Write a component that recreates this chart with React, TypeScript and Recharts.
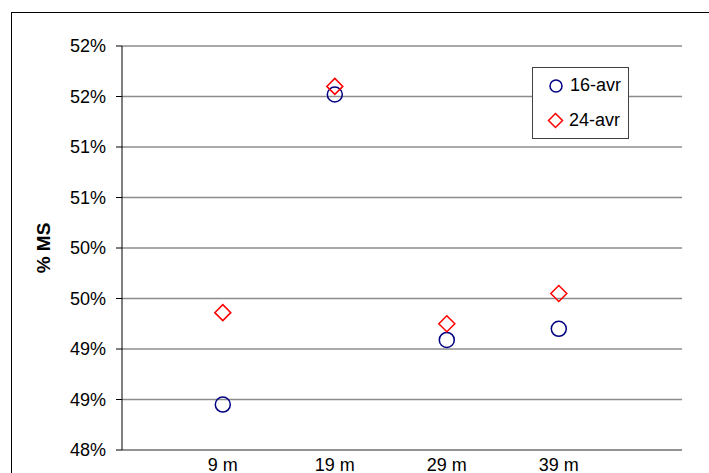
import { ScatterChart, Scatter, XAxis, YAxis, CartesianGrid, Legend } from 'recharts';

// distances (m) and % MS
const distances = [9, 19, 29, 39];
const avr16 = [48.45, 51.52, 49.09, 49.2];
const avr24 = [49.36, 51.6, 49.25, 49.55];
const yTicks = [48, 48.5, 49, 49.5, 50, 50.5, 51, 51.5, 52];
const xTicks = [9, 19, 29, 39];

const data16 = distances.map((d, i) => ({ x: d, y: avr16[i] }));
const data24 = distances.map((d, i) => ({ x: d, y: avr24[i] }));

const FONT = '"Liberation Sans", Arial, sans-serif';

const Circle = (p: any) => (
  <circle cx={p.cx} cy={p.cy} r={7.5} fill="none" stroke="#000080" strokeWidth={1.5} />
);

const Diamond = (p: any) => {
  const s = 8;
  return (
    <path
      d={`M${p.cx},${p.cy - s} L${p.cx + s},${p.cy} L${p.cx},${p.cy + s} L${p.cx - s},${p.cy} Z`}
      fill="none"
      stroke="#ff0000"
      strokeWidth={1.5}
    />
  );
};

function LegendBox() {
  return (
    <div style={{
      width: 95, height: 70, border: '1px solid #404040', background: '#fff',
      fontFamily: FONT, fontSize: 18, color: '#000', boxSizing: 'content-box',
    }}>
      <div style={{ display: 'flex', alignItems: 'center', height: 35, paddingLeft: 15 }}>
        <svg width={16} height={16} style={{ marginRight: 6 }}>
          <circle cx={8} cy={8} r={6} fill="none" stroke="#000080" strokeWidth={1.5} />
        </svg>
        <span>16-avr</span>
      </div>
      <div style={{ display: 'flex', alignItems: 'center', height: 35, paddingLeft: 14 }}>
        <svg width={17} height={17} style={{ marginRight: 5 }}>
          <path d="M8.5,1.5 L15.5,8.5 L8.5,15.5 L1.5,8.5 Z" fill="none" stroke="#ff0000" strokeWidth={1.5} />
        </svg>
        <span>24-avr</span>
      </div>
    </div>
  );
}

export default function App() {
  return (
    <div style={{ position: 'absolute', left: 0, top: 0, width: 709, height: 473, overflow: 'hidden', background: '#fff' }}>
      <div style={{ position: 'absolute', left: 11, top: 12, width: 720, height: 480, border: '1px solid #000' }} />
      <ScatterChart
        width={709}
        height={473}
        margin={{ top: 46, right: 27, bottom: 3, left: 20 }}
        style={{ position: 'absolute', left: 0, top: 0 }}
      >
        <CartesianGrid horizontal vertical={false} stroke="#8c8c8c" strokeWidth={1.3} />
        <XAxis
          type="number"
          dataKey="x"
          domain={[0, 50]}
          ticks={xTicks}
          tickFormatter={(v: number) => `${v} m`}
          axisLine={{ stroke: '#8c8c8c', strokeWidth: 1.3 }}
          tickLine={false}
          height={20}
          tick={{ fill: '#000', fontSize: 18, fontFamily: FONT }}
        />
        <YAxis
          type="number"
          dataKey="y"
          domain={[48, 52]}
          ticks={yTicks}
          interval={0}
          tickFormatter={(v: number) => `${Math.round(v)}%`}
          axisLine={{ stroke: '#000', strokeWidth: 1 }}
          tickLine={{ stroke: '#000' }}
          tickSize={6}
          tickMargin={10}
          width={102}
          tick={{ fill: '#000', fontSize: 18, fontFamily: FONT }}
          label={{
            content: (props: any) => {
              const vb = props.viewBox;
              const x = vb.x + 23;
              const y = vb.y + vb.height / 2;
              return (
                <text
                  x={x}
                  y={y}
                  transform={`rotate(-90 ${x} ${y})`}
                  textAnchor="middle"
                  dominantBaseline="central"
                  fontFamily={FONT}
                  fontSize={19}
                  fontWeight="bold"
                  fill="#000"
                >
                  % MS
                </text>
              );
            },
          }}
        />
        <Legend
          layout="vertical"
          align="center"
          verticalAlign="middle"
          wrapperStyle={{ left: 532, top: 67, width: 97, height: 72 }}
          content={() => <LegendBox />}
        />
        <Scatter name="16-avr" data={data16} shape={Circle} isAnimationActive={false} />
        <Scatter name="24-avr" data={data24} shape={Diamond} isAnimationActive={false} />
      </ScatterChart>
    </div>
  );
}
